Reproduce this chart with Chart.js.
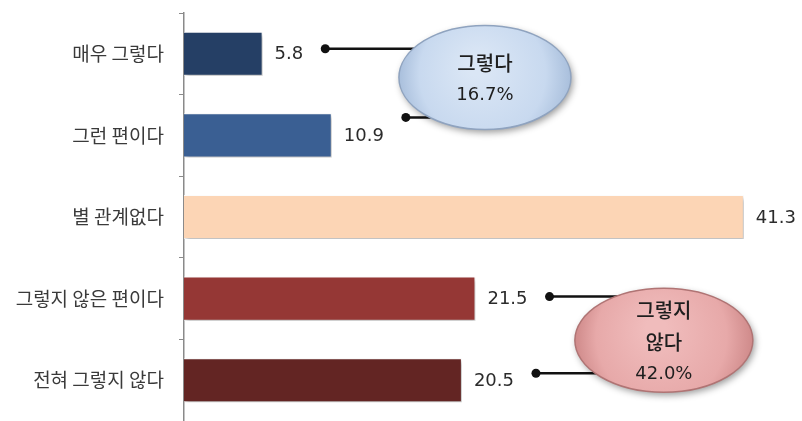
<!DOCTYPE html>
<html>
<head>
<meta charset="utf-8">
<script src="https://cdn.jsdelivr.net/npm/chart.js@4.4.1/dist/chart.umd.min.js"></script>
<style>
  html, body { margin: 0; padding: 0; background: #ffffff; }
  #wrap { width: 802px; height: 421px; }
</style>
</head>
<body>
<div id="wrap"><canvas id="surveyChart" width="802" height="421"></canvas></div>
<script>
// survey answers, top to bottom
var categories = ['매우 그렇다', '그런 편이다', '별 관계없다', '그렇지 않은 편이다', '전혀 그렇지 않다'];
var values = [5.8, 10.9, 41.3, 21.5, 20.5];
var barColors = ['#253f65', '#3a5f93', '#fcd5b5', '#953735', '#632523'];

// grouped totals shown in the bubbles
var groupTitles = [['그렇다'], ['그렇지', '않다']];
var groupMembers = [[0, 1], [3, 4]];

var hangulFont = '"Noto Sans CJK KR", "Noto Sans", sans-serif';
var numberFont = '"DejaVu Sans", Verdana, sans-serif';
var valueFontSize = 18;

function groupTotal(members){
    var sum = 0;
    for (var i = 0; i < members.length; i++){
        sum += values[members[i]];
    }
    return sum.toFixed(1) + '%';
}

// soft shadow under the bars
var barShadow = {
    id: 'barShadow',
    beforeDatasetsDraw: function(chart){
        var ctx = chart.ctx;
        ctx.save();
        ctx.shadowColor = 'rgba(60, 60, 60, 0.35)';
        ctx.shadowBlur = 4;
        ctx.shadowOffsetX = 2;
        ctx.shadowOffsetY = 3;
    },
    afterDatasetsDraw: function(chart){
        chart.ctx.restore();
    }
};

// numbers after each bar end
var valueLabels = {
    id: 'valueLabels',
    afterDatasetsDraw: function(chart){
        var ctx = chart.ctx;
        var meta = chart.getDatasetMeta(0);
        ctx.save();
        ctx.font = valueFontSize + 'px ' + numberFont;
        ctx.fillStyle = '#2b2b2b';
        ctx.textAlign = 'left';
        ctx.textBaseline = 'middle';
        meta.data.forEach(function(bar, i){
            ctx.fillText(values[i].toFixed(1), bar.x + 12, bar.y + 1);
        });
        ctx.restore();
    }
};

// bubbles with connector lines summing two answers
var callouts = {
    id: 'callouts',
    afterDraw: function(chart, args, opts){
        var ctx = chart.ctx;
        var xs = chart.scales.x;
        var ys = chart.scales.y;
        var meta = chart.getDatasetMeta(0);
        ctx.save();
        opts.items.forEach(function(item, g){
            var cx = xs.getPixelForValue(item.at);
            var cy = ys.getPixelForValue(item.row);
            var members = groupMembers[g];

            // connectors
            ctx.font = valueFontSize + 'px ' + numberFont;
            members.forEach(function(idx, k){
                var bar = meta.data[idx];
                var w = ctx.measureText(values[idx].toFixed(1)).width;
                var dx = bar.x + 12 + w + 22;
                var dy = bar.y + item.dotDy[k];
                ctx.strokeStyle = '#111';
                ctx.lineWidth = 2.5;
                ctx.beginPath();
                ctx.moveTo(dx, dy);
                ctx.lineTo(cx, dy);
                ctx.stroke();
                ctx.fillStyle = '#111';
                ctx.beginPath();
                ctx.arc(dx, dy, 4.5, 0, Math.PI * 2);
                ctx.fill();
            });

            // bubble
            ctx.save();
            ctx.shadowColor = 'rgba(0, 0, 0, 0.4)';
            ctx.shadowBlur = 7;
            ctx.shadowOffsetX = 2;
            ctx.shadowOffsetY = 3;
            var grad = ctx.createRadialGradient(cx - 8, cy - 12, 10, cx, cy, item.rx);
            grad.addColorStop(0, item.light);
            grad.addColorStop(0.7, item.mid);
            grad.addColorStop(1, item.dark);
            ctx.fillStyle = grad;
            ctx.beginPath();
            ctx.ellipse(cx, cy, item.rx, item.ry, 0, 0, Math.PI * 2);
            ctx.fill();
            ctx.restore();
            ctx.strokeStyle = item.edge;
            ctx.lineWidth = 1.5;
            ctx.beginPath();
            ctx.ellipse(cx, cy, item.rx, item.ry, 0, 0, Math.PI * 2);
            ctx.stroke();

            // text
            var lines = groupTitles[g].concat([groupTotal(members)]);
            var lh = 32;
            var top = cy + 2 - (lines.length - 1) * lh / 2;
            ctx.textAlign = 'center';
            ctx.textBaseline = 'middle';
            ctx.fillStyle = '#1e1e1e';
            lines.forEach(function(line, n){
                if (n === lines.length - 1){
                    ctx.font = '18px ' + numberFont;
                } else {
                    ctx.font = '500 20px ' + hangulFont;
                }
                ctx.fillText(line, cx, top + n * lh);
            });
        });
        ctx.restore();
    }
};

var chartCtx = document.getElementById('surveyChart').getContext('2d');
var surveyChart = new Chart(chartCtx, {
    type: 'bar',
    data: {
        labels: categories,
        datasets: [{
            data: values,
            backgroundColor: barColors,
            borderColor: 'rgba(255, 255, 255, 0.85)',
            borderWidth: 1,
            categoryPercentage: 1,
            barPercentage: 0.54
        }]
    },
    options: {
        indexAxis: 'y',
        responsive: false,
        animation: false,
        layout: { padding: { top: 13, right: 8, bottom: 0, left: 0 } },
        plugins: {
            legend: { display: false },
            tooltip: { enabled: false },
            callouts: {
                items: [
                    { at: 22.2, row: 0.29, rx: 86, ry: 52, dotDy: [-5, -18],
                      light: '#dae6f5', mid: '#c8d9ef', dark: '#a9bfdc', edge: '#8fa3bf' },
                    { at: 35.4, row: 3.51, rx: 89, ry: 52, dotDy: [-2, -7],
                      light: '#f0bcbc', mid: '#e7a9a9', dark: '#cf8a8a', edge: '#b07474' }
                ]
            }
        },
        scales: {
            x: { display: false, min: 0, max: 45 },
            y: {
                afterFit: function(scale){
                    scale.width = 184;
                    scale.paddingTop = 0;
                    scale.paddingBottom = 0;
                },
                grid: {
                    offset: true,
                    drawOnChartArea: false,
                    drawTicks: true,
                    tickLength: 5,
                    color: '#8a8a8a'
                },
                border: { display: true, color: '#8a8a8a', width: 1.5 },
                ticks: {
                    padding: 15,
                    color: '#3a3a3a',
                    font: { family: hangulFont, size: 19 }
                }
            }
        }
    },
    plugins: [barShadow, valueLabels, callouts]
});
</script>
</body>
</html>
